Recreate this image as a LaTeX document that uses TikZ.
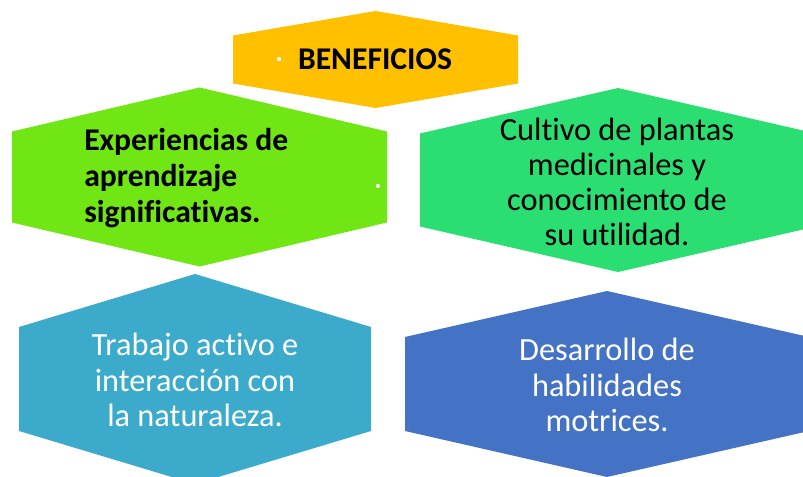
\documentclass[tikz,border=0pt]{standalone}
\usepackage{fontspec}
\setmainfont[Ligatures=NoCommon]{Carlito}

\definecolor{hexyellow}{HTML}{FFC000}
\definecolor{hexlime}{HTML}{70E614}
\definecolor{hexmint}{HTML}{2ADE72}
\definecolor{hexteal}{HTML}{3BAACB}
\definecolor{hexblue}{HTML}{4472C4}

\tikzstyle{label} = [inner sep=0pt, align=center, font=\fontsize{23}{25}\selectfont]
\tikzstyle{boldlabel} = [label, font=\fontsize{22.5}{25.5}\selectfont\bfseries]
\tikzstyle{bullet} = [fill=white]

% hexagon: colour, cx, cy, half width, half height (apex), half side
\newcommand{\hexcell}[6]{%
    \fill[#1] (#2-#4,#3-#6) -- (#2,#3-#5) -- (#2+#4,#3-#6)
        -- (#2+#4,#3+#6) -- (#2,#3+#5) -- (#2-#4,#3+#6) -- cycle;}

\begin{document}
\begin{tikzpicture}[x=0.025cm, y=-0.025cm]

    \clip (0,0) rectangle (803,477);
    \useasboundingbox (0,0) rectangle (803,477);

    % HEADER
        \hexcell{hexyellow}{375.5}{59.5}{142.5}{48.5}{24}
        \node [boldlabel]
            (head) at (375,59) {BENEFICIOS};
        \fill[bullet] (279,59) circle (2.1);

    % ROW I
        \hexcell{hexlime}{199.5}{177}{187.5}{89.5}{45.5}
        \node [boldlabel, align=left, anchor=west]
            (learn) at (84,178) {Experiencias de\\aprendizaje\\significativas.};
        \fill[bullet] (378,186) circle (2.1);

        \hexcell{hexmint}{618}{180}{198}{92}{46.5}
        \node [label]
            (plants) at (617,182) {Cultivo de plantas\\medicinales y\\conocimiento de\\su utilidad.};

    % ROW II
        \hexcell{hexteal}{195}{379}{176}{105}{52}
        \node [label, text=white]
            (nature) at (195,380) {Trabajo activo e\\interacción con\\la naturaleza.};

        \hexcell{hexblue}{607}{384}{202}{93}{47}
        \node [label, text=white]
            (motor) at (607,385) {Desarrollo de\\habilidades\\motrices.};

\end{tikzpicture}
\end{document}
